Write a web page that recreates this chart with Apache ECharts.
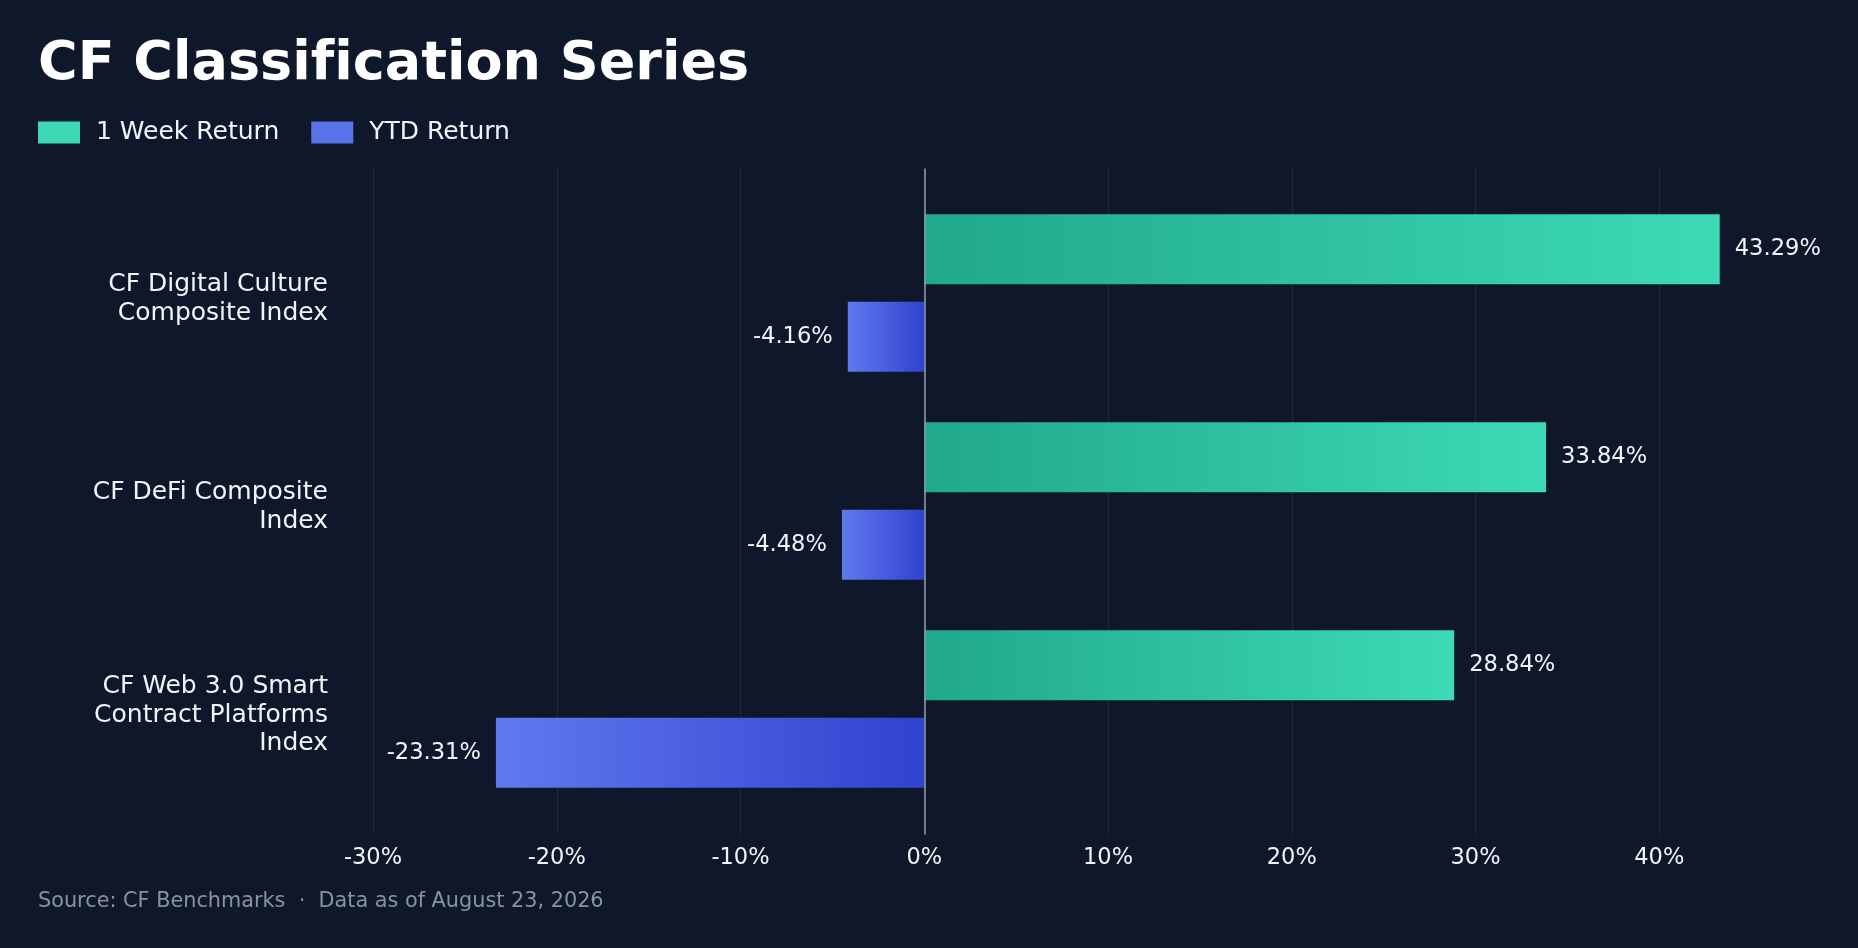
<!DOCTYPE html>
<html>
<head>
<meta charset="utf-8">
<title>CF Classification Series</title>
<script src="https://cdn.jsdelivr.net/npm/echarts@6/dist/echarts.min.js"></script>
<style>
    html, body { margin: 0; padding: 0; background: #0f182a; }
    #chart { width: 1858px; height: 948px; }
</style>
</head>
<body>
<div id="chart"></div>
<script>
// categories, top to bottom
var indexNames = [
    'CF Digital Culture\nComposite Index',
    'CF DeFi Composite\nIndex',
    'CF Web 3.0 Smart\nContract Platforms\nIndex'
];
// returns in %
var weekReturn = [43.29, 33.84, 28.84];
var ytdReturn = [-4.16, -4.48, -23.31];
var seriesNames = ['1 Week Return', 'YTD Return'];

var chart = echarts.init(document.getElementById('chart'));

var textColor = '#f1f5f9';
var font = 'DejaVu Sans';

function pct(p) {
    return p.value.toFixed(2) + '%';
}

// grid 0: bars, grid 1: grid lines / x labels / zero line, grid 2: category labels (nudged down a bit)
var option = {
    backgroundColor: '#0f182a',
    textStyle: { fontFamily: font },
    title: [
        {
            // zwnj keeps the f and i apart (no ligature)
            text: 'CF Classif\u200cication Series',
            left: 38,
            top: 38,
            padding: 0,
            textStyle: { color: '#ffffff', fontSize: 54, fontWeight: 'bold', lineHeight: 54, fontFamily: font }
        },
        {
            text: 'Source: CF Benchmarks  \u00b7  Data as of August 23, 2026',
            left: 38,
            top: 891,
            padding: 0,
            textStyle: { color: '#8792a6', fontSize: 20.8, fontWeight: 'normal', lineHeight: 21, fontFamily: font }
        }
    ],
    legend: {
        left: 38,
        top: 120,
        padding: 0,
        icon: 'rect',
        itemWidth: 42,
        itemHeight: 22,
        itemGap: 32,
        data: [
            { name: seriesNames[0], itemStyle: { color: '#3dd9b4' } },
            { name: seriesNames[1], itemStyle: { color: '#5b73e8' } }
        ],
        textStyle: { color: textColor, fontSize: 25, lineHeight: 22, padding: [0, 0, 0, 11], fontFamily: font }
    },
    grid: [
        { left: 373, right: 15, top: 189, height: 624, containLabel: false, outerBoundsMode: 'none' },
        { left: 373, right: 15, top: 169, height: 665, containLabel: false, outerBoundsMode: 'none' },
        { left: 373, right: 15, top: 195, height: 624, containLabel: false, outerBoundsMode: 'none' }
    ],
    xAxis: [
        {
            gridIndex: 0,
            type: 'value',
            min: -30,
            max: 50,
            interval: 10,
            axisLine: { show: false },
            axisTick: { show: false },
            axisLabel: { show: false },
            splitLine: { show: false }
        },
        {
            gridIndex: 1,
            type: 'value',
            min: -30,
            max: 50,
            interval: 10,
            axisLine: { show: false },
            axisTick: { show: false },
            axisLabel: {
                color: textColor,
                fontSize: 22.5,
                margin: 13,
                showMaxLabel: false,
                formatter: '{value}%'
            },
            splitLine: {
                show: true,
                showMaxLine: false,
                lineStyle: { color: '#1e293b', width: 1.2 }
            }
        },
        {
            gridIndex: 2,
            type: 'value',
            min: -30,
            max: 50,
            show: false
        }
    ],
    yAxis: [
        {
            gridIndex: 0,
            type: 'category',
            inverse: true,
            data: indexNames,
            axisLine: { show: false },
            axisTick: { show: false },
            axisLabel: { show: false }
        },
        {
            gridIndex: 1,
            type: 'value',
            min: 0,
            max: 1,
            z: 5,
            axisLine: { show: true, onZero: true, lineStyle: { color: '#8b95a5', width: 1.6 } },
            axisTick: { show: false },
            axisLabel: { show: false },
            splitLine: { show: false }
        },
        {
            gridIndex: 2,
            type: 'category',
            inverse: true,
            data: indexNames,
            axisLine: { show: false, onZero: false },
            axisTick: { show: false },
            axisLabel: {
                color: textColor,
                fontSize: 25,
                lineHeight: 28.5,
                margin: 45,
                align: 'right'
            }
        }
    ],
    series: [
        {
            name: seriesNames[0],
            type: 'bar',
            xAxisIndex: 0,
            yAxisIndex: 0,
            data: weekReturn,
            barWidth: 70,
            barGap: '25%',
            itemStyle: {
                color: new echarts.graphic.LinearGradient(0, 0, 1, 0, [
                    { offset: 0, color: '#20a88a' },
                    { offset: 1, color: '#3ddab5' }
                ])
            },
            label: {
                show: true,
                position: 'right',
                distance: 15,
                color: textColor,
                fontSize: 22.6,
                formatter: pct
            }
        },
        {
            name: seriesNames[1],
            type: 'bar',
            xAxisIndex: 0,
            yAxisIndex: 0,
            data: ytdReturn,
            barWidth: 70,
            barGap: '25%',
            itemStyle: {
                color: new echarts.graphic.LinearGradient(0, 0, 1, 0, [
                    { offset: 0, color: '#6079ef' },
                    { offset: 1, color: '#3142cf' }
                ])
            },
            label: {
                show: true,
                position: 'left',
                distance: 15,
                color: textColor,
                fontSize: 22.6,
                formatter: pct
            }
        }
    ]
};

chart.setOption(option);
</script>
</body>
</html>
